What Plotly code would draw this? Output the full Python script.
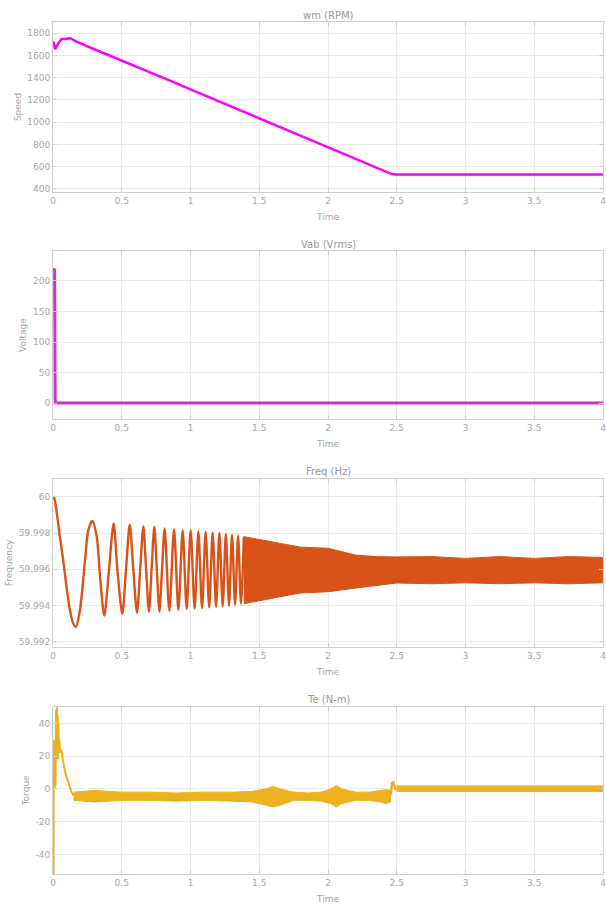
import plotly.graph_objects as go

# ---------------- data ----------------
speed_t = [0, 0.003, 0.015, 0.03, 0.045, 0.063, 0.09, 0.124, 0.17, 0.34, 0.59, 0.83, 1.0, 1.5, 2.0, 2.3, 2.46, 2.5, 3.0, 3.5, 4.0]
speed_v = [1700, 1724, 1656, 1690, 1720, 1747, 1748, 1756, 1724, 1635, 1510, 1385, 1295, 1035, 778, 620, 535, 530, 530, 530, 530]

volt_t = [0, 0.012, 0.016, 0.02, 1.0, 2.0, 3.0, 4.0]
volt_v = [220, 218, 0, 0, 0, 0, 0, 0]

freq_t = [0, 0.008, 0.05, 0.074, 0.098, 0.123, 0.147, 0.167, 0.196, 0.233, 0.257, 0.286,
          0.318, 0.342, 0.373, 0.403, 0.441, 0.468, 0.504, 0.531, 0.558, 0.584, 0.611, 0.634,
          0.657, 0.677, 0.698, 0.717, 0.737, 0.755, 0.774, 0.793, 0.812, 0.846, 0.88, 0.912, 0.943, 0.972, 1.001, 1.03,
          1.057, 1.084, 1.11, 1.136, 1.161, 1.186, 1.21, 1.234, 1.257, 1.28, 1.302, 1.324, 1.346, 1.367, 1.388]
freq_v = [60.0, 59.99995, 59.99779, 59.99651, 59.99504, 59.99375, 59.99301, 59.99283, 59.99375, 59.99651, 59.99816, 59.99866,
          59.99779, 59.99559, 59.99344, 59.99559, 59.99853, 59.99600, 59.99353, 59.99600, 59.99847, 59.99600, 59.99360, 59.99600,
          59.99838, 59.99600, 59.99366, 59.99600, 59.99835, 59.99600, 59.99366, 59.99600, 59.99825, 59.99371, 59.99820, 59.99375, 59.99816, 59.99380, 59.99816, 59.99383,
          59.99810, 59.99386, 59.99806, 59.99390, 59.99803, 59.99393, 59.99800, 59.99396, 59.99795, 59.99400, 59.99790, 59.99405, 59.99785, 59.99410, 59.99780]

freq_band_t = [1.388, 1.5, 1.65, 1.8, 2.0, 2.2, 2.35, 2.5, 2.75, 3.0, 3.25, 3.5, 3.75, 4.0]
freq_band_hi = [59.99780, 59.99765, 59.99745, 59.99722, 59.99716, 59.99678, 59.99670, 59.99668, 59.9967, 59.9966, 59.9967, 59.9966, 59.9967, 59.99665]
freq_band_lo = [59.99410, 59.99425, 59.99448, 59.99469, 59.99476, 59.99496, 59.99512, 59.99524, 59.9952, 59.99525, 59.9952, 59.99525, 59.9952, 59.99525]

torque_t = [0, 0.004, 0.005, 0.008, 0.010, 0.013, 0.016, 0.019, 0.022, 0.025, 0.028, 0.031, 0.034, 0.037,
            0.040, 0.043, 0.046, 0.05, 0.055, 0.06, 0.07, 0.08, 0.095, 0.11, 0.12, 0.135, 0.15]
torque_v = [0, -52, 30, 0, 30, 0, 28, 2, 48, 18, 50, 20, 45, 18,
            40, 22, 30, 26, 22, 24, 18, 14, 8, 4, 1, -2, -4]

torque_band_t = [0.15, 0.3, 0.5, 0.7, 0.9, 1.1, 1.3, 1.45, 1.55, 1.6, 1.65, 1.75, 1.85, 1.95, 2.02, 2.06, 2.1, 2.2, 2.3, 2.38, 2.42, 2.455]
torque_band_hi = [-2, -1, -2, -2, -2.5, -2, -2, -1.5, 0, 1.5, 0, -2, -2.5, -2, 0, 2, 0, -2, -2, -1, -0.5, -1]
torque_band_lo = [-7, -8, -7, -7, -7.5, -7, -7.5, -8, -10, -11, -10, -7, -7, -7.5, -9, -11, -9, -7, -7, -8, -9, -8]

torque_step_t = [2.455, 2.465, 2.475, 2.49, 2.5]
torque_step_v = [-4, 3.5, 4, 0, 0]

torque_tail_t = [2.5, 3.0, 3.5, 4.0]
torque_tail_hi = [1.8, 1.8, 1.8, 1.8]
torque_tail_lo = [-1.6, -1.6, -1.6, -1.6]

titles = ["wm (RPM)", "Vab (Vrms)", "Freq (Hz)", "Te (N-m)"]
ylabels = ["Speed", "Voltage", "Frequency", "Torque"]
xticks = [0, 0.5, 1, 1.5, 2, 2.5, 3, 3.5, 4]
xticklabels = ["0", "0.5", "1", "1.5", "2", "2.5", "3", "3.5", "4"]

# ---------------- styling ----------------
C_SPEED = "#FF00FF"
C_VOLT = "#CC33CC"
C_FREQ = "#D95319"
C_TORQ = "#EDB120"
GRID = "#EBEBEB"
AXC = "#CFCFCF"
TXT = "#A8A8A8"
FONT = "DejaVu Sans, Arial, sans-serif"

fig = go.Figure()

fig.add_trace(go.Scatter(x=speed_t, y=speed_v, mode="lines", line=dict(color=C_SPEED, width=2.5),
                         xaxis="x", yaxis="y", showlegend=False))
fig.add_trace(go.Scatter(x=volt_t, y=volt_v, mode="lines", line=dict(color=C_VOLT, width=3),
                         xaxis="x2", yaxis="y2", showlegend=False))

fig.add_trace(go.Scatter(x=freq_t, y=freq_v, mode="lines", line=dict(color=C_FREQ, width=2.4, shape="spline", smoothing=0.8),
                         xaxis="x3", yaxis="y3", showlegend=False))
fig.add_trace(go.Scatter(x=freq_band_t + freq_band_t[::-1], y=freq_band_hi + freq_band_lo[::-1],
                         mode="lines", fill="toself", fillcolor=C_FREQ, line=dict(color=C_FREQ, width=1),
                         xaxis="x3", yaxis="y3", showlegend=False))

fig.add_trace(go.Scatter(x=torque_t, y=torque_v, mode="lines", line=dict(color=C_TORQ, width=2),
                         xaxis="x4", yaxis="y4", showlegend=False))
fig.add_trace(go.Scatter(x=torque_band_t + torque_band_t[::-1], y=torque_band_hi + torque_band_lo[::-1],
                         mode="lines", fill="toself", fillcolor=C_TORQ, line=dict(color=C_TORQ, width=1),
                         xaxis="x4", yaxis="y4", showlegend=False))
fig.add_trace(go.Scatter(x=torque_step_t, y=torque_step_v, mode="lines", line=dict(color=C_TORQ, width=2.5),
                         xaxis="x4", yaxis="y4", showlegend=False))
fig.add_trace(go.Scatter(x=torque_tail_t + torque_tail_t[::-1], y=torque_tail_hi + torque_tail_lo[::-1],
                         mode="lines", fill="toself", fillcolor=C_TORQ, line=dict(color=C_TORQ, width=1),
                         xaxis="x4", yaxis="y4", showlegend=False))

# plot area: l=53, r=3, t=22, b=33 -> height 852
H = 852.0
doms = [(22, 192), (251, 419), (479, 647), (706.7, 874)]
yranges = [[372, 1900], [-26, 249], [59.99171, 60.00098], [-52, 50.2]]
ydticks = [[400, 600, 800, 1000, 1200, 1400, 1600, 1800],
           [0, 50, 100, 150, 200],
           [59.992, 59.994, 59.996, 59.998, 60],
           [-40, -20, 0, 20, 40]]
ytext = [[str(v) for v in ydticks[0]],
         [str(v) for v in ydticks[1]],
         ["59.992", "59.994", "59.996", "59.998", "60"],
         [str(v) for v in ydticks[3]]]

layout = dict(width=606, height=907, paper_bgcolor="white", plot_bgcolor="white",
              margin=dict(l=53, r=3, t=22, b=33, autoexpand=False),
              font=dict(family=FONT, color=TXT, size=9))
annotations = []
for i in range(4):
    top, bot = doms[i]
    d = [(874 - bot) / H, (874 - top) / H]
    sx = "" if i == 0 else str(i + 1)
    layout["xaxis" + sx] = dict(domain=[0, 1], anchor="y" + sx, range=[0, 4], tickvals=xticks,
                                ticktext=xticklabels, showgrid=True, gridcolor=GRID, gridwidth=1,
                                zeroline=False, showline=True, linecolor=AXC, linewidth=1, mirror="ticks",
                                ticks="inside", ticklen=4, tickcolor=AXC, automargin=False,
                                ticklabeloverflow="allow",
                                tickfont=dict(size=9, color=TXT),
                                title=dict(text="Time", font=dict(size=9, color=TXT), standoff=8))
    layout["yaxis" + sx] = dict(domain=d, anchor="x" + sx, range=yranges[i], tickvals=ydticks[i],
                                ticktext=ytext[i], showgrid=True, gridcolor=GRID, gridwidth=1,
                                zeroline=False, showline=True, linecolor=AXC, linewidth=1, mirror="ticks",
                                ticks="inside", ticklen=4, tickcolor=AXC, automargin=False,
                                ticklabeloverflow="allow",
                                tickfont=dict(size=9, color=TXT),
                                title=dict(text=ylabels[i], font=dict(size=9, color=TXT), standoff=4))
    annotations.append(dict(text=titles[i], x=0.5, xref="paper", y=(874 - (top - 7)) / H, yref="paper",
                            showarrow=False, xanchor="center", yanchor="middle",
                            font=dict(size=10, color="#9A9A9A")))
layout["annotations"] = annotations
fig.update_layout(**layout)

fig.write_html("out.html", config={"displayModeBar": False},
               post_script="document.body.style.margin='0px';document.body.style.overflow='hidden';")
